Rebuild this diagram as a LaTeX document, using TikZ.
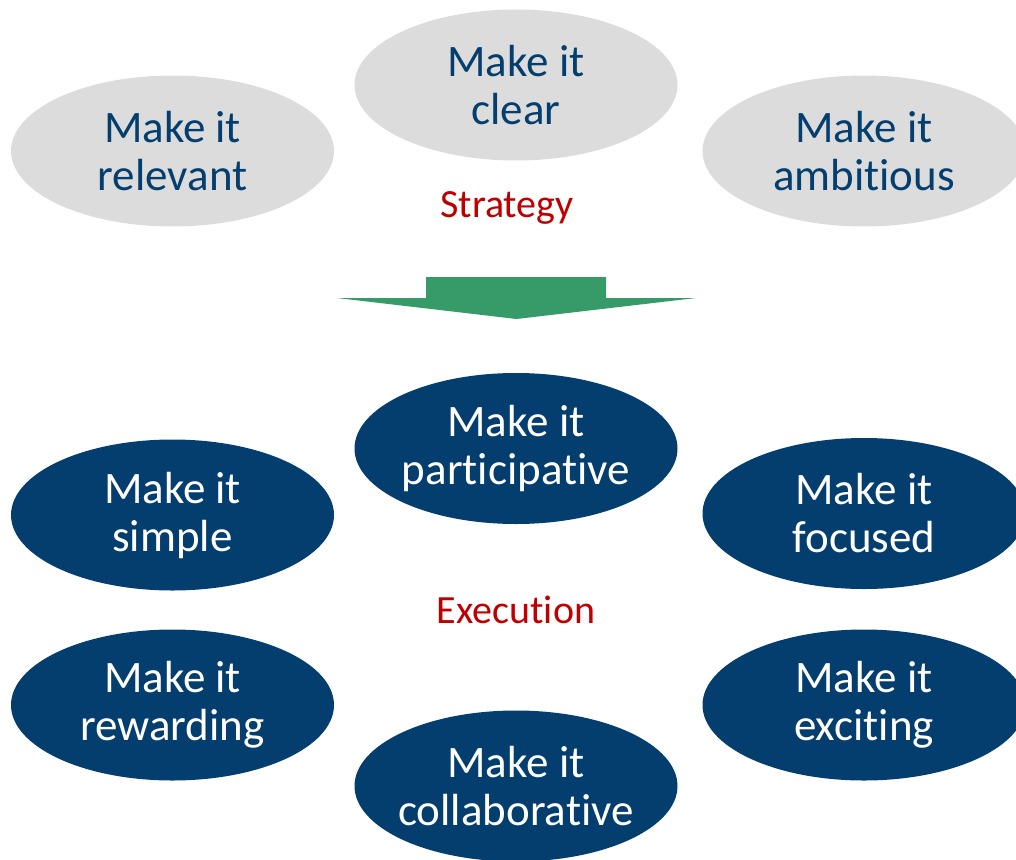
\documentclass[tikz,border=0pt]{standalone}
\usepackage{fontspec}
\setmainfont{Carlito}[Ligatures={NoCommon}]
\usetikzlibrary{shapes.geometric}
\definecolor{navy}{RGB}{4,62,110}
\definecolor{lgray}{RGB}{220,220,220}
\definecolor{dgreen}{RGB}{54,155,104}
\definecolor{dred}{RGB}{192,0,0}
\begin{document}
\begin{tikzpicture}[x=1pt,y=-1pt,
  oval/.style={ellipse,minimum width=323pt,minimum height=151pt,inner xsep=-50pt,inner ysep=-15pt,align=center,
    font=\fontsize{45}{48}\selectfont},
  stratoval/.style={oval,fill=lgray,text=navy},
  execoval/.style={oval,fill=navy,text=white},
  caption/.style={text=dred,inner sep=0pt,font=\fontsize{40}{44}\selectfont}]
\useasboundingbox (0,0) rectangle (1016,859);
\clip (0,0) rectangle (1016,859);
% strategy
\node[stratoval] (relevant) at (172.5,151) {Make it\\relevant};
\node[stratoval] (clear) at (516,85) {Make it\\clear};
\node[stratoval] (ambitious) at (864,151) {Make it\\ambitious};
\node[caption,anchor=base] (strategy) at (507,217) {Strategy};
% arrow
\fill[dgreen] (426,277) -- (606,277) -- (606,298) -- (696,298) -- (516.5,319) -- (337,298) -- (426,298) -- cycle;
% execution
\node[execoval] (participative) at (516,448.5) {Make it\\participative};
\node[execoval] (simple) at (172.5,515) {Make it\\simple};
\node[execoval] (focused) at (864,513.5) {Make it\\focused};
\node[execoval] (rewarding) at (172.5,705) {Make it\\rewarding};
\node[execoval] (exciting) at (864,705) {Make it\\exciting};
\node[execoval] (collaborative) at (516,786) {Make it\\collaborative};
\node[caption] (execution) at (516,610) {Execution};
\end{tikzpicture}
\end{document}
